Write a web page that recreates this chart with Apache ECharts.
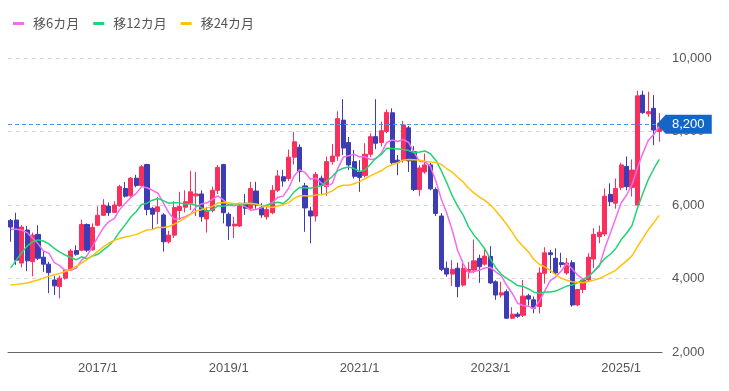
<!DOCTYPE html>
<html><head><meta charset="utf-8">
<script src="https://cdn.jsdelivr.net/npm/echarts/dist/echarts.min.js"></script>
<style>html,body{margin:0;padding:0;background:#fff}#c{width:729px;height:391px}</style>
</head><body><div id="c"></div>
<script>
// categories: monthly, 2015/9 .. 2025/8
const months = [];
for (let y = 2015, m = 9; months.length < 120;) { months.push(y + '/' + m); m++; if (m > 12) { m = 1; y++; } }

const opens = [
5580,5590,4420,5320,4460,5200,4580,4390,3960,3780,
4010,4230,4760,4770,5470,4780,5450,5720,5970,5800,
5980,6450,6250,6730,6530,7100,5910,5820,5730,5000,
5180,5850,5940,6050,6250,6300,5620,5850,6400,7100,
5750,5430,5430,6050,5910,6380,5930,5680,5790,6400,
6770,6720,7300,7570,6520,5840,5700,6730,6500,7180,
7330,8310,7700,7180,6900,6800,7380,7860,7700,8000,
8510,7220,7220,8100,7450,6420,6900,7090,6420,5700,
4280,4120,4280,3820,4190,4230,4550,4390,4600,3910,
3550,3640,2920,3030,3000,3530,3420,3240,4140,4700,
4550,4430,4150,4430,3280,3700,3960,4530,5140,5210,
6290,6050,6480,7050,6480,6000,8990,8480,8630,8000];
const closes = [
5400,4500,5400,4480,5180,4550,4390,4160,3800,4010,
4230,4750,4660,5470,4770,5390,5720,6000,5790,6000,
6500,6240,6730,6530,7040,5880,5750,5950,5000,5180,
5930,5960,6090,6360,6300,5680,5850,6400,7020,5790,
5430,5480,5980,5910,6450,6000,5730,5880,6400,6790,
6650,7300,7720,6910,5920,5700,6830,6540,7180,7330,
8350,7550,7090,6780,6750,7380,7860,7680,8020,8520,
7150,7150,8180,7200,6420,7010,7090,6440,5770,4250,
4120,4250,3780,4280,4250,4480,4320,4610,3880,3550,
3610,2920,3030,2970,3520,3440,3190,4150,4700,4650,
4150,4380,4420,3280,3700,3960,4580,5200,5260,6240,
6090,6450,7090,6500,6950,8970,8510,8540,8040,8220];
const lows = [
5000,4370,4300,4200,4060,4500,4180,3600,3550,3460,
3970,4200,4620,4740,4720,4760,5420,5700,5700,5780,
5950,6200,6200,6480,6500,5720,5340,5480,4730,4950,
5100,5590,5800,5860,5700,5550,5250,5800,6300,5500,
5050,5100,5400,5730,5850,5900,5650,5600,5750,6350,
6500,6650,7100,6630,5270,4960,5550,6300,6250,7100,
7200,7360,6950,6720,6360,6750,7300,7520,7600,7950,
7100,6810,7150,6900,6380,6250,6850,6400,5700,4200,
4050,3800,3490,3780,4000,4150,3880,4350,3850,3420,
3480,2900,2900,2930,2950,3260,3050,3050,3860,4150,
4100,4300,4100,3230,3250,3600,3900,4280,4960,5150,
5970,5900,6400,6400,6230,5980,8480,8400,7630,7720];
const highs = [
5620,5790,5450,5430,5250,5450,4730,4450,4070,4080,
4260,4800,4900,5600,5500,5500,5960,6160,6070,6100,
6550,6630,6760,6820,7090,7120,5950,6210,5780,5300,
6100,6360,6400,6930,6900,6400,5950,6500,7090,7120,
5800,5680,6050,6300,6630,6630,6050,6000,6540,6950,
6950,7510,7990,7650,6600,5950,6900,6800,7320,7660,
8550,8880,7850,7500,7220,7680,7950,8880,8270,8600,
8630,7360,8290,8150,7600,7080,7400,7150,6480,5780,
4460,4500,4430,4500,4450,5060,4650,4780,4880,3950,
3910,3700,3220,3080,3960,3580,3510,4300,4850,4780,
4820,4700,4560,4500,3720,4000,4690,5370,5440,6450,
6590,6720,7150,7320,7240,9110,9110,9080,8990,8500];

const ma6 = [
5340,5340,5320,5250,5100,4950,4750,4690,4430,4350,
4210,4230,4280,4500,4620,4870,5130,5380,5550,5630,
5880,6040,6200,6310,6500,6470,6400,6320,6060,5790,
5615,5628,5685,5753,5950,6030,6060,6150,6250,6140,
5990,5980,6017,5960,5860,5880,5925,5992,6062,6208,
6242,6458,6790,6962,6882,6700,6730,6603,6513,6583,
6988,7297,7340,7380,7308,7317,7235,7257,7412,7702,
7768,7730,7783,7703,7437,7185,7175,7057,6655,6163,
5780,5320,4768,4408,4155,4193,4227,4287,4303,4182,
4075,3815,3600,3327,3267,3248,3178,3383,3662,3942,
4047,4203,4408,4263,4097,3982,4053,4190,4330,4823,
5222,5637,6055,6272,6553,7008,7412,7760,7918,8150];
const ma12 = [
4290,4500,4700,4880,5000,5050,5020,4940,4820,4720,
4640,4570,4509,4590,4538,4613,4658,4779,4896,5050,
5274,5460,5668,5817,6015,6050,6131,6178,6118,6049,
6061,6058,6024,6033,5998,5927,5828,5871,5977,5963,
5999,6024,6029,6024,6054,6024,5977,5994,6040,6072,
6041,6167,6358,6477,6472,6454,6486,6531,6652,6773,
6935,6999,7035,6992,6911,6950,7112,7277,7376,7541,
7538,7524,7509,7480,7425,7444,7472,7394,7219,6933,
6609,6253,5972,5733,5405,5178,5004,4804,4536,4295,
4115,4004,3914,3807,3785,3715,3627,3599,3631,3635,
3657,3726,3793,3823,3880,3962,4050,4197,4369,4543,
4660,4810,5054,5231,5442,5916,6317,6699,6987,7239];
const ma24 = [
3830,3840,3860,3880,3920,3960,4010,4060,4100,4140,
4190,4250,4330,4420,4520,4620,4740,4860,4960,5040,
5090,5130,5160,5194,5262,5320,5335,5396,5388,5414,
5479,5554,5649,5747,5833,5872,5922,5961,6054,6071,
6059,6037,6045,6041,6039,6029,5988,5961,5934,5972,
6009,6065,6179,6251,6251,6239,6270,6278,6315,6384,
6488,6536,6538,6580,6635,6714,6792,6866,6931,7036,
7095,7149,7222,7240,7230,7218,7192,7172,7166,7105,
6993,6897,6755,6629,6457,6329,6215,6124,6004,5845,
5667,5469,5262,5030,4879,4724,4516,4389,4318,4220,
4097,4011,3954,3914,3897,3885,3918,3956,3998,4071,
4146,4223,4356,4479,4618,4870,5099,5331,5519,5718];

const seriesNames = ['移6カ月', '移12カ月', '移24カ月'];
const lastPrice = 8200;
const yMin = 2000, yMax = 10000, yStep = 2000;

const candles = opens.map((o, i) => [o, closes[i], lows[i], highs[i]]);
const fmt = v => String(v).replace(/\B(?=(\d{3})+(?!\d))/g, ',');

const chart = echarts.init(document.getElementById('c'), null, { renderer: 'canvas' });
chart.setOption({
  animation: false,
  backgroundColor: '#fff',
  legend: {
    left: 8, top: 12,
    data: seriesNames,
    icon: 'rect', itemWidth: 11, itemHeight: 3, itemGap: 14,
    textStyle: { color: '#555', fontSize: 13, fontFamily: 'Noto Sans CJK JP', padding: [0, 0, 0, 4] }
  },
  grid: { left: 8, right: 67, top: 58, bottom: 39 },
  xAxis: {
    type: 'category', data: months, boundaryGap: true,
    axisLine: { lineStyle: { color: '#666', width: 1 } },
    axisTick: { show: false },
    axisLabel: {
      color: '#555', fontSize: 13, fontFamily: 'Liberation Sans', margin: 10,
      interval: (i, v) => { const p = v.split('/'); return p[1] === '1' && (+p[0]) % 2 === 1; }
    },
    splitLine: { show: false }
  },
  yAxis: {
    type: 'value', position: 'right', min: yMin, max: yMax, interval: yStep, scale: true,
    axisLine: { show: false }, axisTick: { show: false },
    axisLabel: { color: '#555', fontSize: 13, fontFamily: 'Liberation Sans', margin: 10, formatter: fmt },
    splitLine: { lineStyle: { color: '#d6d6d6', type: [4, 4] } }
  },
  series: [
    {
      type: 'candlestick', name: 'price', data: candles, barWidth: '84%',
      itemStyle: { color: '#fa2f5d', color0: '#3c3cb4', borderColor: '#fa2f5d', borderColor0: '#3c3cb4', borderWidth: 1 },
      markLine: {
        silent: true, symbol: ['none', 'none'],
        lineStyle: { color: '#4a92e0', type: [4, 3], width: 1 },
        label: { show: false },
        data: [{ yAxis: lastPrice }]
      },
      markPoint: {
        silent: true,
        symbol: 'path://M0,10L9,0H56V20H9Z',
        symbolSize: [55, 19],
        symbolOffset: [25, 0],
        itemStyle: { color: '#1466c6' },
        label: { show: true, color: '#fff', fontSize: 13, fontFamily: 'Liberation Sans', offset: [4, 0], formatter: () => fmt(lastPrice) },
        data: [{ coord: [months[months.length - 1], lastPrice] }]
      },
      z: 3
    },
    { type: 'line', name: seriesNames[0], data: ma6, showSymbol: false, lineStyle: { color: '#f46cf2', width: 1.5 }, itemStyle: { color: '#f46cf2' }, z: 4 },
    { type: 'line', name: seriesNames[1], data: ma12, showSymbol: false, lineStyle: { color: '#22d374', width: 1.5 }, itemStyle: { color: '#22d374' }, z: 4 },
    { type: 'line', name: seriesNames[2], data: ma24, showSymbol: false, lineStyle: { color: '#ffc20a', width: 1.5 }, itemStyle: { color: '#ffc20a' }, z: 4 }
  ]
});
</script>
</body></html>
